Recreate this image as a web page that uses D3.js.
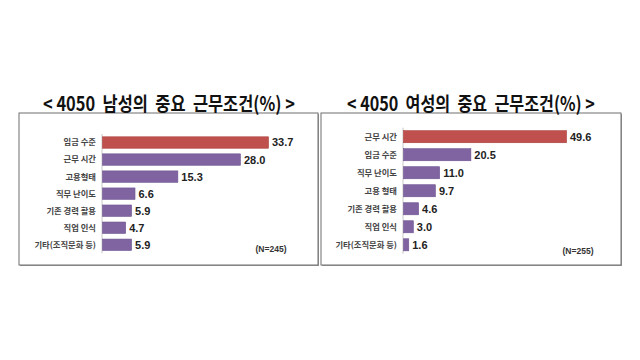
<!DOCTYPE html>
<html><head><meta charset="utf-8">
<script src="https://cdn.jsdelivr.net/npm/d3@7"></script>
<style>body{margin:0;background:#fff}svg{display:block}</style>
</head><body>
<svg id="c" width="640" height="360"></svg>
<script>
const menTitle = "< 4050  남성의  중요  근무조건(%) >";
const menCats = ["임금 수준","근무 시간","고용형태","직무 난이도","기존 경력 활용","직업 인식","기타(조직문화 등)"];
const menVals = [33.7,28.0,15.3,6.6,5.9,4.7,5.9];
const menN = "(N=245)";
const womenTitle = "< 4050  여성의  중요  근무조건(%) >";
const womenCats = ["근무 시간","임금 수준","직무 난이도","고용 형태","기존 경력 활용","직업 인식","기타(조직문화 등)"];
const womenVals = [49.6,20.5,11.0,9.7,4.6,3.0,1.6];
const womenN = "(N=255)";

const svg = d3.select("#c");
const panels = [
  {title:menTitle, cats:menCats, vals:menVals, n:menN,
   box:[19,113,299,152], tx:[43,295], ty:111, ax:102, pxEnd:268, yr:[134,253.3], nx:271, ny:252},
  {title:womenTitle, cats:womenCats, vals:womenVals, n:womenN,
   box:[321,113,300,152], tx:[347,595], ty:111, ax:403, pxEnd:566, yr:[127.7,253.8], nx:578, ny:254}
];

panels.forEach(p=>{
  const g = svg.append("g");
  g.append("rect").attr("x",p.box[0]+1).attr("y",p.box[1]+1).attr("width",p.box[2]).attr("height",p.box[3])
    .attr("fill","#9a9a9a");
  g.append("rect").attr("x",p.box[0]).attr("y",p.box[1]).attr("width",p.box[2]).attr("height",p.box[3])
    .attr("fill","#fff").attr("stroke","#6e6e6e").attr("stroke-width",1);
  const t = g.append("text").attr("x",0).attr("y",0)
    .attr("font-family","'Noto Sans CJK KR'").attr("font-weight",700).attr("font-size",19.5)
    .attr("fill","#111").style("white-space","pre").text(p.title);
  const len = t.node().getComputedTextLength();
  const sx = (p.tx[1]-p.tx[0])/len;
  t.attr("transform",`translate(${p.tx[0]},${p.ty}) scale(${sx},1)`);
  const x = d3.scaleLinear().domain([0,p.vals[0]]).range([p.ax,p.pxEnd]);
  const y = d3.scaleBand().domain(p.cats).range(p.yr).paddingInner(0.33).paddingOuter(0.165);
  g.append("line").attr("x1",p.ax).attr("x2",p.ax).attr("y1",p.yr[0]).attr("y2",p.yr[1])
    .attr("stroke","#c8c8c8").attr("stroke-width",1);
  const data = p.cats.map((c,i)=>({c,v:p.vals[i],i}));
  g.selectAll(".bar").data(data).join("rect")
    .attr("x",x(0)+0.5).attr("y",d=>y(d.c)).attr("width",d=>x(d.v)-x(0)).attr("height",y.bandwidth())
    .attr("fill",d=>d.i===0?"#C0504D":"#8064A2")
    .attr("stroke",d=>d.i===0?"#a9403d":"#6d5490").attr("stroke-width",0.6);
  g.selectAll(".val").data(data).join("text")
    .attr("x",d=>x(d.v)+4).attr("y",d=>y(d.c)+y.bandwidth()/2).attr("dy","0.36em")
    .attr("font-family","'Liberation Sans', Arial, sans-serif").attr("font-weight",700).attr("font-size",11)
    .attr("fill","#222").text(d=>d.v.toFixed(1));
  g.selectAll(".cat").data(data).join("text")
    .attr("x",p.ax-6).attr("y",d=>y(d.c)+y.bandwidth()/2).attr("dy","0.35em").attr("text-anchor","end")
    .attr("font-family","'Noto Sans CJK KR'").attr("font-weight",700).attr("font-size",8.3)
    .attr("fill","#444").text(d=>d.c);
  g.append("text").attr("x",p.nx).attr("y",p.ny).attr("text-anchor","middle")
    .attr("font-family","'Liberation Sans', Arial, sans-serif").attr("font-weight",700).attr("font-size",8.5)
    .attr("fill","#333").text(p.n);
});
</script>
</body></html>
